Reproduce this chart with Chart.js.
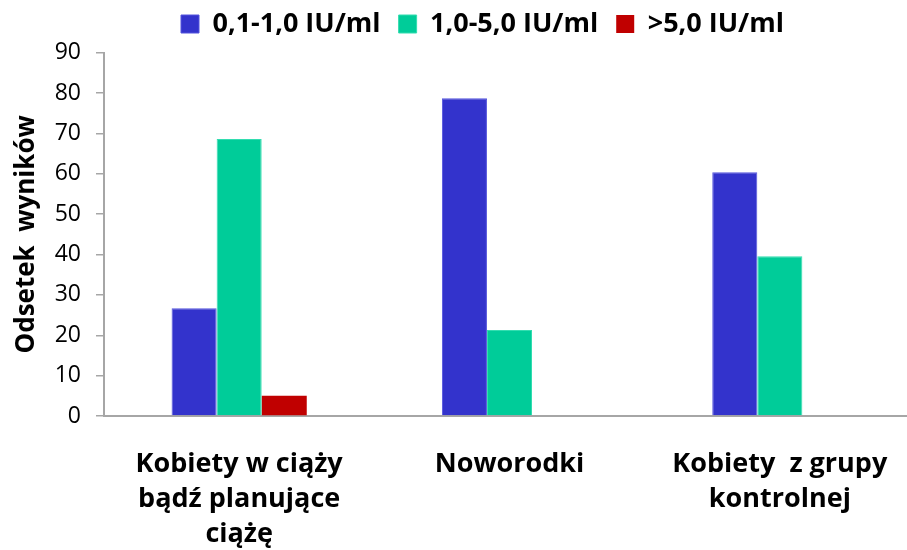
<!DOCTYPE html>
<html>
<head>
<meta charset="utf-8">
<script src="https://cdn.jsdelivr.net/npm/chart.js@4"></script>
<style>
  html, body { margin: 0; padding: 0; background: #fff; overflow: hidden; }
  #wrap { width: 915px; height: 550px; }
</style>
</head>
<body>
<div id="wrap"><canvas id="mychart"></canvas></div>
<script>
// dane
var kategorie = [
  ["Kobiety w ciąży", "bądź planujące", "ciążę"],
  "Noworodki",
  ["Kobiety  z grupy", "kontrolnej"]
];
var serie = ["0,1-1,0 IU/ml", "1,0-5,0 IU/ml", ">5,0 IU/ml"];
var niskie = [26.7, 78.7, 60.4];
var srednie = [68.6, 21.3, 39.6];
var wysokie = [5.0, 0, 0];
var osY = [0, 10, 20, 30, 40, 50, 60, 70, 80, 90];

var niebieski = '#3333cc';
var zielony = '#00cc99';
var czerwony = '#c00000';
var szary = '#a6a6a6';
var font = "'Open Sans', 'Noto Sans', sans-serif";
var lewy = 50; // przesuniecie legendy w prawo

var ctx = document.getElementById("mychart").getContext('2d');
var myChart = new Chart(ctx, {
  type: 'bar',
  data: {
    labels: kategorie,
    datasets: [
      { label: serie[0], data: niskie, backgroundColor: niebieski, borderColor: '#5555dd', borderWidth: 1 },
      { label: serie[1], data: srednie, backgroundColor: zielony, borderColor: '#33ddb0', borderWidth: 1 },
      { label: serie[2], data: wysokie, backgroundColor: czerwony, borderWidth: 0 }
    ]
  },
  options: {
    responsive: true,
    maintainAspectRatio: false,
    animation: false,
    layout: { padding: { top: -7.5, left: lewy, right: 0, bottom: 0 } },
    datasets: {
      bar: { categoryPercentage: 0.5, barPercentage: 1.0 }
    },
    plugins: {
      tooltip: { enabled: false },
      // pusty tytul jako odstep miedzy legenda a wykresem
      title: {
        display: true,
        text: '',
        weight: 500,
        font: { size: 1 },
        padding: { top: 0, bottom: 4 }
      },
      legend: {
        position: 'top',
        labels: {
          color: '#000',
          font: { family: font, size: 27, weight: 'bold' },
          boxWidth: 18,
          boxHeight: 18,
          padding: 18
        }
      }
    },
    scales: {
      x: {
        grid: { display: false },
        border: { display: true, color: szary, width: 2 },
        ticks: {
          color: '#000',
          font: { family: font, size: 27, weight: 'bold', lineHeight: 1.3 },
          padding: 23,
          maxRotation: 0,
          autoSkip: false
        },
        afterFit: function (scale) { scale.height = 134; }
      },
      y: {
        min: 0,
        max: 90,
        afterBuildTicks: function (scale) {
          scale.ticks = osY.map(function (v) { return { value: v }; });
        },
        grid: { drawOnChartArea: false, drawTicks: true, tickLength: 8, color: szary, lineWidth: 1.5 },
        border: { display: true, color: szary, width: 2 },
        ticks: {
          color: '#000',
          font: { family: font, size: 23 },
          padding: 15
        },
        title: {
          display: true,
          text: 'Odsetek  wyników',
          color: '#000',
          font: { family: font, size: 26, weight: 'bold' },
          padding: { top: 26.5 - 15.6 - lewy, bottom: 0 }
        },
        afterFit: function (scale) { scale.width = 104 - lewy; }
      }
    }
  }
});
</script>
</body>
</html>
